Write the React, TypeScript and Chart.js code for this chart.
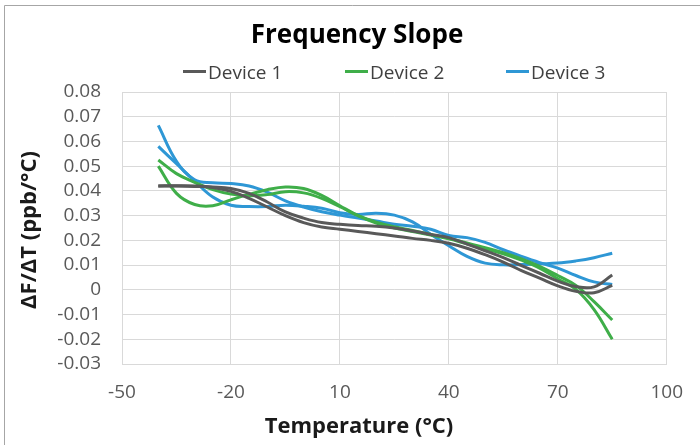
import React, { useEffect, useRef } from 'react';
import { Chart, registerables } from 'chart.js';

Chart.register(...registerables);

// ---- Data ----
const temperatures = [-40, -35, -30, -25, -20, -15, -10, -5, 0, 5, 10, 15, 20, 25, 30, 35, 40, 45, 50, 55, 60, 65, 70, 75, 80, 85];

const device1a = [0.0420, 0.0420, 0.0418, 0.0416, 0.0410, 0.0390, 0.0355, 0.0315, 0.0290, 0.0272, 0.0265, 0.0260, 0.0257, 0.0250, 0.0238, 0.0224, 0.0211, 0.0185, 0.0158, 0.0130, 0.0098, 0.0067, 0.0035, 0.0013, 0.0012, 0.0060];
const device1b = [0.0420, 0.0421, 0.0420, 0.0414, 0.0398, 0.0370, 0.0335, 0.0300, 0.0272, 0.0254, 0.0245, 0.0236, 0.0227, 0.0218, 0.0208, 0.0200, 0.0188, 0.0168, 0.0142, 0.0112, 0.0078, 0.0047, 0.0016, -0.0006, -0.0012, 0.0018];

const device2a = [0.0525, 0.0470, 0.0435, 0.0405, 0.0387, 0.0380, 0.0385, 0.0397, 0.0392, 0.0370, 0.0336, 0.0300, 0.0274, 0.0255, 0.0240, 0.0224, 0.0208, 0.0190, 0.0170, 0.0150, 0.0125, 0.0095, 0.0058, 0.0018, -0.0048, -0.0122];
const device2b = [0.0500, 0.0390, 0.0345, 0.0340, 0.0364, 0.0386, 0.0405, 0.0416, 0.0410, 0.0382, 0.0340, 0.0300, 0.0270, 0.0250, 0.0236, 0.0222, 0.0206, 0.0186, 0.0166, 0.0146, 0.0120, 0.0088, 0.0045, 0.0002, -0.0080, -0.0200];

const device3a = [0.0665, 0.0520, 0.0445, 0.0433, 0.0430, 0.0420, 0.0395, 0.0360, 0.0335, 0.0316, 0.0302, 0.0290, 0.0278, 0.0265, 0.0257, 0.0245, 0.0220, 0.0211, 0.0192, 0.0162, 0.0135, 0.0110, 0.0088, 0.0058, 0.0032, 0.0022];
const device3b = [0.0580, 0.0510, 0.0440, 0.0375, 0.0342, 0.0337, 0.0337, 0.0342, 0.0338, 0.0330, 0.0312, 0.0305, 0.0310, 0.0302, 0.0275, 0.0225, 0.0178, 0.0135, 0.0108, 0.0101, 0.0102, 0.0105, 0.0108, 0.0117, 0.0130, 0.0148];

const deviceNames = ['Device 1', 'Device 2', 'Device 3'];
const seriesValues = [[device1a, device1b], [device2a, device2b], [device3a, device3b]];

const chartTitle = 'Frequency Slope';
const xAxisTitle = 'Temperature (°C)';
const yAxisTitle = 'ΔF/ΔT (ppb/°C)';

// ---- Styles ----
const deviceColors = ['#595959', '#3fae49', '#2e97d5'];
const FONT = '"Open Sans", "DejaVu Sans", sans-serif';

const decorPlugin = {
  id: 'decor',
  beforeDraw(chart: any) {
    const ctx = chart.ctx;
    ctx.save();
    ctx.fillStyle = '#ffffff';
    ctx.fillRect(0, 0, chart.width, chart.height);
    ctx.strokeStyle = '#a6a6a6';
    ctx.lineWidth = 1;
    ctx.beginPath();
    ctx.moveTo(4.5, chart.height + 2);
    ctx.lineTo(4.5, 5.5);
    ctx.lineTo(chart.width + 2, 5.5);
    ctx.stroke();
    ctx.restore();
  },
  afterDraw(chart: any) {
    const ctx = chart.ctx;
    ctx.save();
    // Title
    ctx.fillStyle = '#000000';
    ctx.font = `bold 26px ${FONT}`;
    ctx.textAlign = 'center';
    ctx.textBaseline = 'alphabetic';
    ctx.fillText(chartTitle, 357, 43);

    // Legend
    const legendX = [183, 345, 506];
    deviceNames.forEach((name, i) => {
      const x = legendX[i];
      ctx.strokeStyle = deviceColors[i];
      ctx.lineWidth = 3;
      ctx.beginPath();
      ctx.moveTo(x, 71.5);
      ctx.lineTo(x + 23, 71.5);
      ctx.stroke();
      ctx.fillStyle = '#404040';
      ctx.font = `19px ${FONT}`;
      ctx.textAlign = 'left';
      ctx.fillText(name, x + 25, 79);
    });

    // Axis titles
    ctx.fillStyle = '#1a1a1a';
    ctx.font = `bold 22px ${FONT}`;
    ctx.textAlign = 'center';
    ctx.textBaseline = 'alphabetic';
    ctx.fillText(xAxisTitle, 359, 433);

    ctx.translate(36, 230);
    ctx.rotate(-Math.PI / 2);
    ctx.fillText(yAxisTitle, 0, 0);
    ctx.restore();
  },
};

export default function App() {
  const canvasRef = useRef<HTMLCanvasElement | null>(null);

  useEffect(() => {
    if (!canvasRef.current) return;
    const datasets: any[] = [];
    seriesValues.forEach((pair, d) => {
      pair.forEach((vals) => {
        datasets.push({
          label: deviceNames[d],
          data: temperatures.map((t, i) => ({ x: t, y: vals[i] })),
          borderColor: deviceColors[d],
          backgroundColor: deviceColors[d],
          borderWidth: 3,
          pointRadius: 0,
          tension: 0.4,
          fill: false,
        });
      });
    });

    const chart = new Chart(canvasRef.current, {
      type: 'line',
      data: { datasets },
      options: {
        animation: false,
        responsive: false,
        devicePixelRatio: 1,
        layout: { padding: { top: 92, right: 33, left: 0, bottom: 0 } },
        plugins: {
          legend: { display: false },
          title: { display: false },
          tooltip: { enabled: false },
        },
        scales: {
          x: {
            type: 'linear',
            min: -50,
            max: 100,
            ticks: {
              stepSize: 30,
              color: '#595959',
              font: { family: FONT, size: 19 },
              padding: 17,
              maxRotation: 0,
              autoSkip: false,
            },
            grid: { color: '#d9d9d9', drawTicks: false },
            border: { color: '#d9d9d9' },
            afterFit: (s: any) => { s.height = 81; },
          },
          y: {
            min: -0.03,
            max: 0.08,
            ticks: {
              stepSize: 0.01,
              color: '#595959',
              font: { family: FONT, size: 19 },
              padding: 21,
              autoSkip: false,
              callback: (v: any) => {
                const r = Math.round(Number(v) * 100) / 100;
                return r === 0 ? '0' : r.toFixed(2);
              },
            },
            grid: { color: '#d9d9d9', drawTicks: false },
            border: { color: '#d9d9d9' },
            afterFit: (s: any) => { s.width = 122; },
          },
        },
      },
      plugins: [decorPlugin],
    });
    return () => chart.destroy();
  }, []);

  return (
    <div style={{ position: 'fixed', left: 0, top: 0, width: 700, height: 445, background: '#fff' }}>
      <canvas ref={canvasRef} width={700} height={445} style={{ display: 'block' }} />
    </div>
  );
}
